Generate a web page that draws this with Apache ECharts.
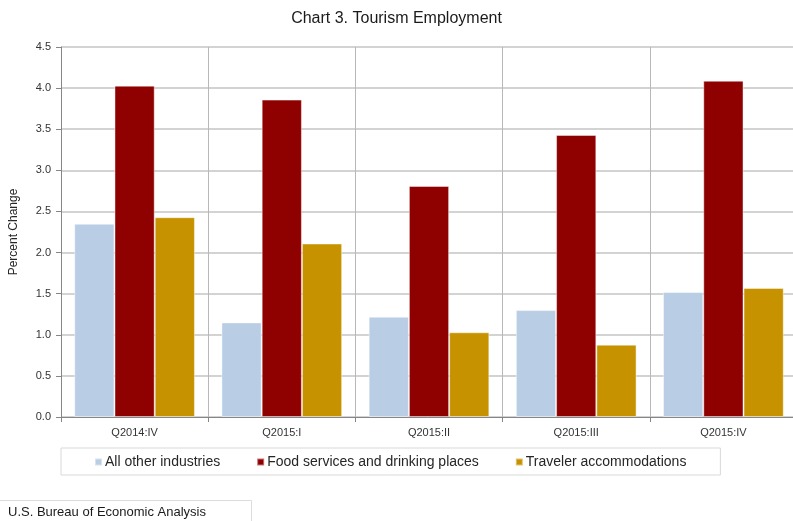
<!DOCTYPE html>
<html>
<head>
<meta charset="utf-8">
<script src="https://cdn.jsdelivr.net/npm/echarts@6/dist/echarts.min.js"></script>
<style>
html,body{margin:0;padding:0;background:#fff;}
#c{width:793px;height:521px;}
</style>
</head>
<body>
<div id="c"></div>
<script>
var categories = ['Q2014:IV', 'Q2015:I', 'Q2015:II', 'Q2015:III', 'Q2015:IV'];
var allOther = [2.35, 1.15, 1.22, 1.30, 1.52];
var foodServices = [4.03, 3.86, 2.81, 3.43, 4.09];
var traveler = [2.43, 2.11, 1.03, 0.88, 1.57];
var seriesNames = ['All other industries', 'Food services and drinking places', 'Traveler accommodations'];
var colors = ['#b9cde5', '#8f0000', '#c79200'];

var chart = echarts.init(document.getElementById('c'));
var font = 'Liberation Sans, Arial, sans-serif';
var barBorder = {borderColor: 'rgba(255,255,255,0.45)', borderWidth: 1};

chart.setOption({
  animation: false,
  backgroundColor: '#fff',
  textStyle: {fontFamily: font},
  title: {
    text: 'Chart 3. Tourism Employment',
    left: 'center',
    top: 6,
    textStyle: {fontFamily: font, fontSize: 16, fontWeight: 'normal', color: '#1a1a1a'}
  },
  grid: {left: 61, top: 47, bottom: 104, right: -4, containLabel: false, outerBoundsMode: 'none'},
  legend: {
    data: seriesNames,
    left: 61,
    top: 448,
    padding: [7, 34, 6, 33],
    borderColor: '#d9d9d9',
    borderWidth: 1,
    icon: 'rect',
    itemWidth: 7,
    itemHeight: 7,
    itemGap: 36,
    textStyle: {fontFamily: font, fontSize: 14, color: '#262626', padding: [0, 0, 0, -2]}
  },
  xAxis: {
    type: 'category',
    data: categories,
    boundaryGap: true,
    axisLine: {lineStyle: {color: '#868686', width: 1}},
    axisTick: {show: true, length: 5, lineStyle: {color: '#868686'}},
    axisLabel: {fontFamily: font, fontSize: 11, color: '#333', margin: 10},
    splitLine: {show: true, lineStyle: {color: '#b8b8b8', width: 1}}
  },
  yAxis: {
    type: 'value',
    min: 0,
    max: 4.5,
    interval: 0.5,
    name: 'Percent Change',
    nameLocation: 'middle',
    nameGap: 41,
    nameTextStyle: {fontFamily: font, fontSize: 12, color: '#262626'},
    axisLine: {show: true, lineStyle: {color: '#868686', width: 1}},
    axisTick: {show: true, length: 5, lineStyle: {color: '#868686'}},
    axisLabel: {fontFamily: font, fontSize: 11, color: '#333', margin: 10,
      formatter: function (v) { return v.toFixed(1); }},
    splitLine: {show: true, lineStyle: {color: '#d3d3d3', width: 2}}
  },
  series: [
    {name: seriesNames[0], type: 'bar', data: allOther, barGap: '0%', barCategoryGap: '18%',
      itemStyle: Object.assign({color: colors[0]}, barBorder)},
    {name: seriesNames[1], type: 'bar', data: foodServices, barGap: '0%', barCategoryGap: '18%',
      itemStyle: Object.assign({color: colors[1]}, barBorder)},
    {name: seriesNames[2], type: 'bar', data: traveler, barGap: '0%', barCategoryGap: '18%',
      itemStyle: Object.assign({color: colors[2]}, barBorder)}
  ],
  graphic: [
    {type: 'rect', left: -1, top: 500, shape: {width: 252, height: 30},
      style: {fill: '#fff', stroke: '#dcdcdc', lineWidth: 1}},
    {type: 'text', left: 8, top: 506,
      style: {text: 'U.S. Bureau of Economic Analysis', fontFamily: font, fontSize: 13, fill: '#1a1a1a'}}
  ]
});
</script>
</body>
</html>
